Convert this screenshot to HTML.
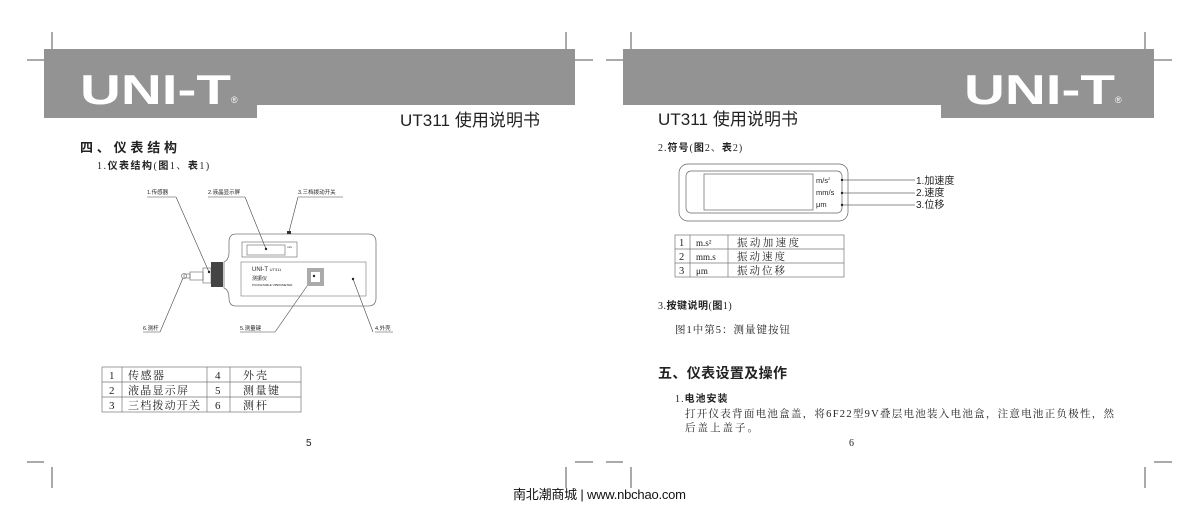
<!DOCTYPE html>
<html><head><meta charset="utf-8"><style>
html,body{margin:0;padding:0;background:#fff;}
svg{display:block;}
text{font-family:"Liberation Serif","Noto Serif CJK SC",serif;fill:#222;}
.s{font-family:"Liberation Sans","Noto Sans CJK SC",sans-serif;}
.b{font-family:"Liberation Sans","Noto Sans CJK SC",sans-serif;font-weight:bold;}
</style></head><body>
<svg width="1200" height="514" viewBox="0 0 1200 514" xmlns="http://www.w3.org/2000/svg">
<g stroke="#555" stroke-width="1" fill="none">
<line x1="52" y1="32" x2="52" y2="49"/><line x1="27" y1="60" x2="44" y2="60"/>
<line x1="566" y1="32" x2="566" y2="49"/><line x1="575" y1="60" x2="593" y2="60"/>
<line x1="631" y1="32" x2="631" y2="49"/><line x1="606" y1="60" x2="623" y2="60"/>
<line x1="1145" y1="32" x2="1145" y2="49"/><line x1="1154" y1="60" x2="1172" y2="60"/>
<line x1="27" y1="462" x2="44" y2="462"/><line x1="52" y1="467" x2="52" y2="488"/>
<line x1="575" y1="462" x2="593" y2="462"/><line x1="566" y1="467" x2="566" y2="488"/>
<line x1="606" y1="462" x2="623" y2="462"/><line x1="631" y1="467" x2="631" y2="488"/>
<line x1="1154" y1="462" x2="1172" y2="462"/><line x1="1145" y1="467" x2="1145" y2="488"/>
</g>
<rect x="44" y="49" width="531" height="56" fill="#939393"/>
<rect x="44" y="104" width="213" height="14" fill="#939393"/>
<rect x="623" y="49" width="531" height="56" fill="#939393"/>
<rect x="941" y="104" width="213" height="14" fill="#939393"/>
<text x="80" y="104" class="b" style="fill:#fff;font-size:42px" textLength="151" lengthAdjust="spacingAndGlyphs">UNI-T</text>
<text x="231" y="103" class="s" style="fill:#fff;font-size:9px">®</text>
<text x="964" y="104" class="b" style="fill:#fff;font-size:42px" textLength="151" lengthAdjust="spacingAndGlyphs">UNI-T</text>
<text x="1115" y="103" class="s" style="fill:#fff;font-size:9px">®</text>
<text x="400" y="126" class="s" style="font-size:17px" textLength="140">UT311 使用说明书</text>
<text x="658" y="125" class="s" style="font-size:17px" textLength="140">UT311 使用说明书</text>

<text x="80" y="152" class="b" style="font-size:13px" textLength="97">四、仪表结构</text>
<text x="97" y="169" style="font-size:10px;letter-spacing:1.5px">1.<tspan class="b">仪表结构</tspan>(<tspan class="b">图</tspan>1、<tspan class="b">表</tspan>1)</text>

<g style="font-size:5.5px">
<text x="147" y="194" class="s">1.传感器</text>
<text x="208" y="194" class="s">2.液晶显示屏</text>
<text x="298" y="194" class="s">3.三档拨动开关</text>
<text x="143" y="330" class="s">6.测杆</text>
<text x="240" y="330" class="s">5.测量键</text>
<text x="375" y="330" class="s">4.外壳</text>
</g>
<g stroke="#444" stroke-width="0.6" fill="none">
<line x1="147" y1="197" x2="176" y2="197"/><line x1="176" y1="197" x2="209" y2="272"/>
<line x1="208" y1="197" x2="245" y2="197"/><line x1="245" y1="197" x2="266" y2="249"/>
<line x1="298" y1="197" x2="343" y2="197"/><line x1="298" y1="197" x2="289" y2="232"/>
<line x1="143" y1="332" x2="160" y2="332"/><line x1="160" y1="332" x2="183" y2="278"/>
<line x1="240" y1="332" x2="275" y2="332"/><line x1="275" y1="332" x2="314" y2="276"/>
<line x1="375" y1="332" x2="393" y2="332"/><line x1="373" y1="332" x2="353" y2="279"/>
<path d="M236 234 H368 Q376 234 376 242 V298 Q376 306 368 306 H236 Q229 306 229 298 Q229 290 224 288 V262 Q229 260 229 252 V242 Q229 234 236 234 Z" stroke="#777" stroke-width="0.8"/>
<rect x="242" y="242" width="55" height="15" stroke="#666"/>
<rect x="247" y="245" width="38" height="10" stroke="#666"/>
<rect x="241" y="262" width="125" height="34" stroke="#777"/>
<rect x="203" y="268" width="8" height="15" stroke="#666"/>
<rect x="190" y="272" width="13" height="8" stroke="#666"/>
<rect x="184" y="274" width="6" height="4" stroke="#666"/>
<circle cx="184" cy="276" r="2.5" stroke="#666"/>
</g>
<rect x="211" y="262" width="12" height="25" fill="#444"/>
<rect x="287" y="231" width="4" height="3" fill="#333"/>
<rect x="307" y="268" width="17" height="18" fill="#aaa"/>
<rect x="311" y="272" width="9" height="10" fill="#fff"/>
<g fill="#222"><circle cx="266" cy="249" r="1.2"/><circle cx="209" cy="272" r="1.2"/><circle cx="314" cy="276" r="1.2"/><circle cx="353" cy="279" r="1.2"/></g>
<text x="252" y="271" class="s" style="font-size:6px">UNI-T <tspan style="font-size:4px">UT311</tspan></text>
<text x="252" y="280" class="s" style="font-size:5px">测振仪</text>
<text x="252" y="286" class="s" style="font-size:3px">POCKETABLE VIBROMETER</text>
<text x="287" y="248" class="s" style="font-size:3px">m/s</text>

<g stroke="#777" stroke-width="0.7" fill="none">
<rect x="102" y="367" width="199" height="45"/>
<line x1="102" y1="382" x2="301" y2="382"/><line x1="102" y1="397" x2="301" y2="397"/>
<line x1="122" y1="367" x2="122" y2="412"/><line x1="207" y1="367" x2="207" y2="412"/><line x1="230" y1="367" x2="230" y2="412"/>
</g>
<g style="font-size:11px">
<text x="109" y="379">1</text><text x="128" y="379" textLength="36">传感器</text><text x="215" y="379">4</text><text x="243" y="379" textLength="24">外壳</text>
<text x="109" y="394">2</text><text x="128" y="394" textLength="60">液晶显示屏</text><text x="215" y="394">5</text><text x="243" y="394" textLength="36">测量键</text>
<text x="109" y="409">3</text><text x="128" y="409" textLength="72">三档拨动开关</text><text x="215" y="409">6</text><text x="243" y="409" textLength="24">测杆</text>
</g>
<text x="306" y="446" class="s" style="font-size:10px">5</text>

<text x="658" y="151" style="font-size:10px;letter-spacing:1px">2.<tspan class="b">符号</tspan>(<tspan class="b">图</tspan>2、<tspan class="b">表</tspan>2)</text>
<g stroke="#666" stroke-width="0.7" fill="none">
<rect x="679" y="164" width="169" height="57" rx="9"/>
<rect x="686" y="171" width="156" height="42" rx="5"/>
<rect x="704" y="174" width="109" height="36"/>
<line x1="842" y1="180" x2="915" y2="180"/><line x1="842" y1="193" x2="915" y2="193"/><line x1="842" y1="205" x2="915" y2="205"/>
</g>
<g fill="#222"><circle cx="842" cy="180" r="1.2"/><circle cx="842" cy="193" r="1.2"/><circle cx="842" cy="205" r="1.2"/></g>
<g style="font-size:7.5px">
<text x="816" y="183" class="s">m/s<tspan dy="-3" style="font-size:4px">2</tspan></text>
<text x="816" y="195" class="s">mm/s</text>
<text x="816" y="207" class="s">μm</text>
</g>
<g style="font-size:10px">
<text x="916" y="184" class="s">1.加速度</text>
<text x="916" y="196" class="s">2.速度</text>
<text x="916" y="208" class="s">3.位移</text>
</g>
<g stroke="#777" stroke-width="0.7" fill="none">
<rect x="675" y="235" width="169" height="42"/>
<line x1="675" y1="249" x2="844" y2="249"/><line x1="675" y1="263" x2="844" y2="263"/>
<line x1="690" y1="235" x2="690" y2="277"/><line x1="728" y1="235" x2="728" y2="277"/>
</g>
<g style="font-size:10.5px">
<text x="679" y="246">1</text><text x="696" y="246" style="font-size:9px">m.s²</text><text x="737" y="246" textLength="62">振动加速度</text>
<text x="679" y="260">2</text><text x="696" y="260" style="font-size:9px">mm.s</text><text x="737" y="260" textLength="48">振动速度</text>
<text x="679" y="274">3</text><text x="696" y="274" style="font-size:9px">μm</text><text x="737" y="274" textLength="48">振动位移</text>
</g>
<text x="658" y="309" style="font-size:10px;letter-spacing:0.5px">3.<tspan class="b">按键说明</tspan>(<tspan class="b">图</tspan>1)</text>
<text x="675" y="333" style="font-size:10.5px" textLength="115">图1中第5：测量键按钮</text>
<text x="658" y="378" class="b" style="font-size:14px" textLength="129">五、仪表设置及操作</text>
<text x="675" y="402" style="font-size:10px;letter-spacing:1px">1.<tspan class="b">电池安装</tspan></text>
<text x="685" y="417" style="font-size:10.5px" textLength="429">打开仪表背面电池盒盖，将6F22型9V叠层电池装入电池盒，注意电池正负极性，然</text>
<text x="685" y="431" style="font-size:10.5px;letter-spacing:2px">后盖上盖子。</text>
<text x="849" y="446" style="font-size:10px">6</text>

<text x="513" y="499" class="s" style="font-size:13px;fill:#111" textLength="173">南北潮商城 | www.nbchao.com</text>
</svg>
</body></html>
